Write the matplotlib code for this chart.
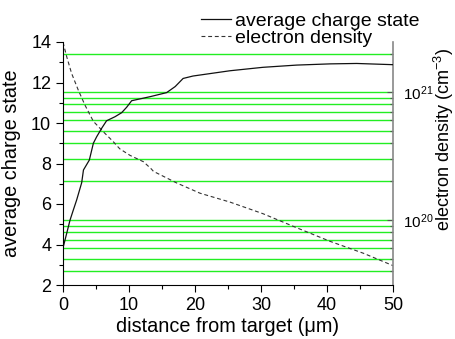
import numpy as np
import matplotlib
matplotlib.use("Agg")
import matplotlib.pyplot as plt
from matplotlib.ticker import MultipleLocator, LogLocator

plt.rcParams['font.family'] = ['Liberation Sans', 'DejaVu Sans']
plt.rcParams['mathtext.fontset'] = 'custom'
plt.rcParams['mathtext.rm'] = 'Liberation Sans'
plt.rcParams['mathtext.it'] = 'Liberation Sans:italic'

# average charge state vs distance (um)
x_charge = [0.0, 0.56, 1.06, 1.56, 2.07, 2.83, 3.1, 3.99, 4.6, 5.1, 5.86, 6.6,
            7.88, 8.89, 9.65, 10.4, 13.2, 15.7, 17.0, 18.2, 19.7, 25.3, 30.3,
            35.4, 40.5, 44.5, 50.0]
charge = [3.83, 4.55, 5.2, 5.7, 6.2, 7.05, 7.68, 8.17, 9.0, 9.32, 9.74, 10.11,
          10.31, 10.51, 10.78, 11.1, 11.3, 11.5, 11.8, 12.2, 12.32, 12.58, 12.75,
          12.86, 12.92, 12.94, 12.88]

# electron density (cm^-3) vs distance (um)
x_dens = [0.0, 0.56, 1.3, 2.3, 3.33, 4.6, 6.1, 7.6, 8.6, 10.15, 12.2, 13.4,
          13.7, 17.2, 20.75, 25.3, 30.3, 35.4, 40.5, 45.5, 50.0]
dens = [2.45e21, 1.89e21, 1.40e21, 1.04e21, 7.9e20, 5.9e20, 4.9e20, 4.1e20,
        3.6e20, 3.2e20, 2.85e20, 2.5e20, 2.4e20, 1.95e20, 1.62e20, 1.38e20,
        1.12e20, 8.7e19, 6.8e19, 5.5e19, 4.4e19]

fig = plt.figure(figsize=(4.55, 3.39), dpi=100)
ax1 = fig.add_axes([63/455, 54/339, 330/455, 243/339])
ax2 = ax1.twinx()
ax1.set_zorder(ax2.get_zorder() + 1)
ax1.patch.set_visible(False)

# right axis: log density with green grid
ax2.set_yscale('log')
ax2.set_ylim(10**19.492, 10**21.391)
ax2.yaxis.set_major_locator(LogLocator(base=10))
ax2.yaxis.set_minor_locator(LogLocator(base=10, subs=np.arange(2, 10)))
ax2.yaxis.set_minor_formatter(matplotlib.ticker.NullFormatter())
ax2.grid(which='both', axis='y', color='#22ee22', linewidth=1.0)
l2, = ax2.plot(x_dens, dens, color='#333333', linestyle=(0, (3.5, 2.5)), linewidth=0.8)
ax2.tick_params(axis='y', which='major', direction='in', length=4, width=0.8,
                labelsize=11, pad=7, color='#555555')
ax2.tick_params(axis='y', which='minor', direction='in', length=2, width=0.8,
                color='#555555')
ax2.set_ylabel('electron density (cm$^{-3}$)', fontsize=13)
ax2.yaxis.set_label_coords((432 - 63) / 330, 0.60)

# left axis: charge state
l1, = ax1.plot(x_charge, charge, color='#111111', linewidth=0.9)
ax1.set_xlim(0, 50)
ax1.set_ylim(2, 14)
ax1.xaxis.set_major_locator(MultipleLocator(10))
ax1.xaxis.set_minor_locator(MultipleLocator(5))
ax1.yaxis.set_major_locator(MultipleLocator(2))
ax1.yaxis.set_minor_locator(MultipleLocator(1))
ax1.tick_params(which='major', direction='out', length=5, width=0.8, labelsize=13)
ax1.tick_params(which='minor', direction='out', length=3, width=0.8)
ax1.set_xlabel('distance from target (\u03bcm)', fontsize=14.3, labelpad=2)
ax1.set_ylabel('average charge state', fontsize=14.3, labelpad=7)

for ax in (ax1, ax2):
    ax.spines['top'].set_visible(False)
ax2.spines['right'].set_color('#888888')
ax2.spines['right'].set_linewidth(1.2)
ax2.spines['left'].set_visible(False)
ax2.spines['bottom'].set_visible(False)
ax1.spines['right'].set_visible(False)

fig.legend([l1, l2], ['average charge state', 'electron density'],
           loc='upper left', bbox_to_anchor=(201/455, 1 - 12/339),
           frameon=False, fontsize=14, handlelength=1.55, handletextpad=0.2,
           labelspacing=0.0, borderpad=0, borderaxespad=0)

fig.savefig('out.png', dpi=100)
